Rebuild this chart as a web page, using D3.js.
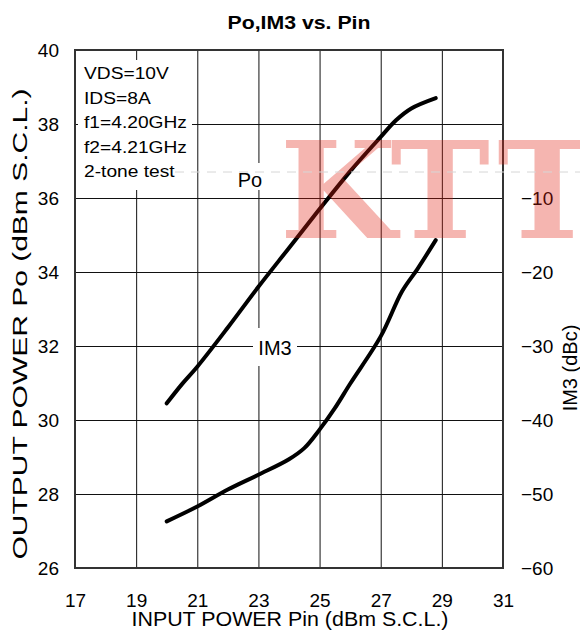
<!DOCTYPE html>
<html>
<head>
<meta charset="utf-8">
<script src="https://cdn.jsdelivr.net/npm/d3@7"></script>
<style>
  body { margin: 0; background: #fff; }
  svg text { font-family: "Liberation Sans", Arial, sans-serif; fill: #000; }
</style>
</head>
<body>
<svg id="chart" width="580" height="630"></svg>
<script>
/* global d3 */
// values
const xTicks = [17, 19, 21, 23, 25, 27, 29, 31];
const poTicks = [26, 28, 30, 32, 34, 36, 38, 40];
const im3Ticks = [-60, -50, -40, -30, -20, -10];

const pinPo = [20, 20.5, 21, 22, 23, 24, 25, 26, 27, 27.5, 28, 28.8];
const po = [30.45, 30.97, 31.44, 32.5, 33.6, 34.65, 35.7, 36.72, 37.65, 38.1, 38.42, 38.7];

const pinIm3 = [20, 21, 22, 23, 24, 24.5, 25, 25.5, 26, 27, 27.7, 28.2, 28.8];
const im3 = [-53.7, -51.7, -49.4, -47.4, -45.3, -43.8, -41.3, -38.4, -35.1, -28.7, -22.6, -19.6, -15.7];

const conditions = ['VDS=10V', 'IDS=8A', 'f1=4.20GHz', 'f2=4.21GHz', '2-tone test'];

const svg = d3.select('#chart');
const plotLeft = 75;
const plotRight = 503;
const plotTop = 50;
const plotBottom = 568;

const x = d3.scaleLinear().domain([17, 31]).range([plotLeft, plotRight]);
const yPo = d3.scaleLinear().domain([26, 40]).range([plotBottom, plotTop]);
const yIm3 = d3.scaleLinear().domain([-60, 10]).range([plotBottom, plotTop]);

// grid
svg.append('g')
  .attr('transform', `translate(0,${plotBottom})`)
  .call(d3.axisBottom(x).tickValues(xTicks.slice(1, -1)).tickSize(-(plotBottom - plotTop)).tickFormat(''))
  .call((g) => g.select('.domain').remove())
  .call((g) => g.selectAll('line').attr('stroke', '#111').attr('stroke-width', 1));

svg.append('g')
  .attr('transform', `translate(${plotLeft},0)`)
  .call(d3.axisLeft(yPo).tickValues(poTicks.slice(1, -1)).tickSize(-(plotRight - plotLeft)).tickFormat(''))
  .call((g) => g.select('.domain').remove())
  .call((g) => g.selectAll('line').attr('stroke', '#111').attr('stroke-width', 1));

// conditions box covers the grid
svg.append('rect')
  .attr('x', 78).attr('y', 60)
  .attr('width', 114).attr('height', 130)
  .attr('fill', '#fff');

svg.append('g')
  .selectAll('text')
  .data(conditions)
  .join('text')
  .attr('transform', (d, i) => `translate(84,${79 + i * 24.6}) scale(1.13,1)`)
  .attr('font-size', 17)
  .text((d) => d);

// curve labels with white background
svg.append('rect').attr('x', 233).attr('y', 163).attr('width', 35).attr('height', 27).attr('fill', '#fff');
svg.append('text').attr('x', 250).attr('y', 187).attr('text-anchor', 'middle')
  .attr('font-size', 20).text('Po');

svg.append('rect').attr('x', 253).attr('y', 328).attr('width', 44).attr('height', 38).attr('fill', '#fff');
svg.append('text').attr('x', 275).attr('y', 355).attr('text-anchor', 'middle')
  .attr('font-size', 20).text('IM3');

// frame
svg.append('rect')
  .attr('x', plotLeft).attr('y', plotTop)
  .attr('width', plotRight - plotLeft).attr('height', plotBottom - plotTop)
  .attr('fill', 'none').attr('stroke', '#333').attr('stroke-width', 2);

// curves
const poLine = d3.line()
  .x((d) => x(d[0]))
  .y((d) => yPo(d[1]))
  .curve(d3.curveCatmullRom.alpha(0.5));

const im3Line = d3.line()
  .x((d) => x(d[0]))
  .y((d) => yIm3(d[1]))
  .curve(d3.curveCatmullRom.alpha(0.5));

svg.append('path')
  .datum(d3.zip(pinPo, po))
  .attr('d', poLine)
  .attr('fill', 'none').attr('stroke', '#000').attr('stroke-width', 4)
  .attr('stroke-linecap', 'round').attr('stroke-linejoin', 'round');

svg.append('path')
  .datum(d3.zip(pinIm3, im3))
  .attr('d', im3Line)
  .attr('fill', 'none').attr('stroke', '#000').attr('stroke-width', 4)
  .attr('stroke-linecap', 'round').attr('stroke-linejoin', 'round');

// axes labels
const xAxis = svg.append('g')
  .attr('transform', `translate(0,${plotBottom})`)
  .call(d3.axisBottom(x).tickValues(xTicks).tickSize(0).tickPadding(26));
const yAxis = svg.append('g')
  .attr('transform', `translate(${plotLeft},0)`)
  .call(d3.axisLeft(yPo).tickValues(poTicks).tickSize(0).tickPadding(16));
const rAxis = svg.append('g')
  .attr('transform', `translate(${plotRight},0)`)
  .call(d3.axisRight(yIm3).tickValues(im3Ticks).tickSize(0).tickPadding(18));

[xAxis, yAxis, rAxis].forEach((g) => {
  g.select('.domain').remove();
  g.selectAll('text').attr('font-size', 19);
});

svg.append('text')
  .attr('transform', 'translate(299,29) scale(1.12,1)')
  .attr('text-anchor', 'middle')
  .attr('font-size', 19).attr('font-weight', 'bold')
  .text('Po,IM3 vs. Pin');

svg.append('text')
  .attr('transform', 'translate(290,626) scale(1.07,1)')
  .attr('text-anchor', 'middle')
  .attr('font-size', 20)
  .text('INPUT POWER Pin (dBm S.C.L.)');

svg.append('text')
  .attr('transform', 'translate(27,324) rotate(-90) scale(1.5,1)')
  .attr('text-anchor', 'middle')
  .attr('font-size', 20)
  .text('OUTPUT POWER Po (dBm S.C.L.)');

svg.append('text')
  .attr('transform', 'translate(577,368) rotate(-90)')
  .attr('text-anchor', 'middle')
  .attr('font-size', 20)
  .text('IM3 (dBc)');

// watermark overlay
const mark = svg.append('g').attr('fill-opacity', 0.33);
[['K', 338], ['T', 440], ['T', 547]].forEach(([ch, cx]) => {
  mark.append('text')
    .attr('x', cx).attr('y', 238)
    .attr('text-anchor', 'middle')
    .attr('font-weight', 'bold')
    .attr('font-size', 134)
    .style('font-family', '"DejaVu Serif", serif')
    .style('fill', 'rgb(224,30,15)')
    .text(ch);
});

svg.append('line')
  .attr('x1', 175).attr('x2', 580)
  .attr('y1', 172).attr('y2', 172)
  .attr('stroke', '#d6d6d6').attr('stroke-width', 1)
  .attr('stroke-dasharray', '9,7');
</script>
</body>
</html>
